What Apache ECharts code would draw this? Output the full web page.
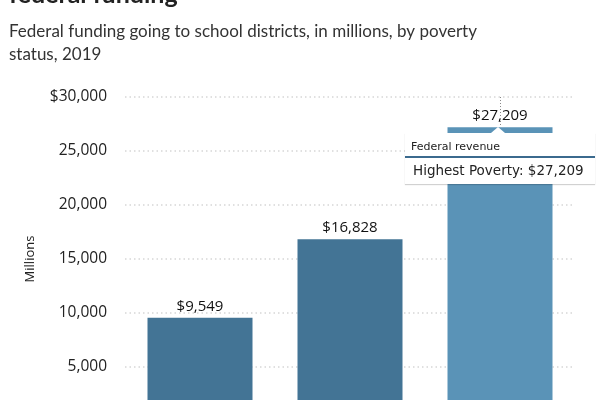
<!DOCTYPE html>
<html>
<head>
<meta charset="utf-8">
<script src="https://cdn.jsdelivr.net/npm/echarts@6/dist/echarts.min.js"></script>
<style>
html,body{margin:0;padding:0;overflow:hidden;background:#fff;width:600px;height:400px;}
#c{position:absolute;left:0;top:0;width:600px;height:440px;}
</style>
</head>
<body>
<div id="c"></div>
<script>
var categories = ['Lowest Poverty', 'Middle Poverty', 'Highest Poverty'];
var federalRevenue = [9549, 16828, 27209];
var yTicks = [0, 5000, 10000, 15000, 20000, 25000, 30000];
var seriesName = 'Federal revenue';

var FONT = 'Lato, "Open Sans", sans-serif';
var NUMFONT = '"Open Sans", Lato, sans-serif';
var chart = echarts.init(document.getElementById('c'));
function fmt(v){ return v.toLocaleString('en-US'); }

var option = {
  animation: false,
  title: [
    { text: 'federal funding', left: 4, top: -23,
      textStyle: { fontFamily: FONT, fontSize: 25, fontWeight: 'bold', color: '#222' } },
    { text: 'Federal funding going to school districts, in millions, by poverty\nstatus, 2019', left: 4, top: 15,
      textStyle: { fontFamily: FONT, fontSize: 17, fontWeight: 'normal', color: '#333', lineHeight: 23 } }
  ],
  grid: { left: 125, right: 25, top: 97, bottom: 19 },
  tooltip: {
    trigger: 'item',
    alwaysShowContent: true,
    triggerOn: 'none',
    padding: 0,
    backgroundColor: '#fff',
    borderWidth: 0,
    extraCssText: 'box-shadow:0 1px 1px rgba(0,0,0,0.18);border-radius:0;',
    position: function(){ return [405, 133]; },
    formatter: function(p){
      return '<div style="position:relative;width:190px;font-family:\'DejaVu Sans\',sans-serif;color:#222;">' +
        '<div style="position:absolute;left:86px;top:-6px;width:0;height:0;border-left:7px solid transparent;border-right:7px solid transparent;border-bottom:6px solid #fff;"></div>' +
        '<div style="font-size:11px;line-height:14px;padding:7px 6px 2px 6px;">' + p.seriesName + '</div>' +
        '<div style="height:2px;background:#3b6a8e;"></div>' +
        '<div style="font-size:13.5px;line-height:18px;padding:3px 8px 5px 8px;">' + p.name + ': $' + fmt(p.value) + '</div>' +
        '</div>';
    }
  },
  xAxis: {
    type: 'category',
    data: categories,
    axisLine: { show: false },
    axisTick: { show: false },
    axisLabel: { show: false }
  },
  yAxis: {
    type: 'value',
    min: 0, max: 30000, interval: 5000,
    name: 'Millions',
    nameLocation: 'middle',
    nameGap: 88,
    nameTextStyle: { fontFamily: NUMFONT, fontSize: 13, color: '#222' },
    axisLine: { show: false },
    axisTick: { show: false },
    axisLabel: {
      margin: 18,
      fontFamily: NUMFONT, fontSize: 15.5, color: '#222',
      formatter: function(v){
        if (v === 0) return '';
        return (v === yTicks[yTicks.length-1] ? '$' : '') + fmt(v);
      }
    },
    splitLine: { lineStyle: { type: [1.5, 3], width: 1.5, color: '#d6d6d6' } }
  },
  series: [{
    name: seriesName,
    type: 'bar',
    barWidth: '70%',
    data: federalRevenue.map(function(v, i){
      return { value: v, itemStyle: { color: i === 2 ? '#5a93b7' : '#437495' } };
    }),
    label: {
      show: true, position: 'top', distance: 4,
      fontFamily: NUMFONT, fontSize: 15, color: '#111',
      formatter: function(p){ return '$' + fmt(p.value); }
    },
    markLine: {
      silent: true, symbol: 'none', label: { show: false }, z: 10,
      lineStyle: { type: [1, 2], width: 1, color: '#888' },
      emphasis: { disabled: true },
      data: [[ { coord: [2, 30000] }, { coord: [2, federalRevenue[2]] } ]]
    }
  }]
};
chart.setOption(option);
chart.dispatchAction({ type: 'showTip', seriesIndex: 0, dataIndex: 2 });
</script>
</body>
</html>
